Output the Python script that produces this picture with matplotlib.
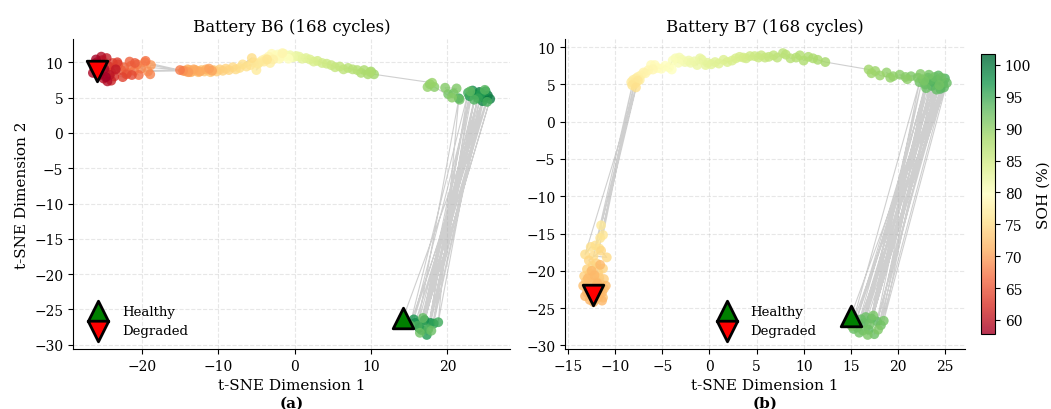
import matplotlib
matplotlib.use("Agg")
import matplotlib.pyplot as plt
import numpy as np

plt.rcParams['font.family'] = ['DejaVu Serif']

# ---------------- Battery B6 (cycle order) ----------------
b6_x = [
    14.2, 24.8, 15.8, 25.3, 16.3, 24.2, 17.0, 25.6, 16.6, 23.7,
    17.8, 24.6, 15.6, 23.3, 17.3, 25.0, 18.2, 22.9, 16.9, 24.4,
    18.8, 21.5, 16.1, 24.0, 17.5, 22.7, 15.1, 25.2, 16.8, 23.5,
    17.9, 24.9, 16.4, 23.0, 21.6, 20.8, 20.1, 21.2, 19.7, 20.6,
    18.3, 17.7, 17.4, 18.0, 10.4, 10.0, 9.6, 9.1, 8.7, 9.9,
    8.2, 7.6, 7.0, 6.4, 5.9, 5.3, 4.8, 4.2, 3.6, 3.0,
    2.5, 2.0, 1.5, 1.0, 0.6, 0.2, -0.2, -0.6, -1.0, -1.4,
    -1.8, -2.2, -0.8, -2.6, -3.0, -2.0, -3.4, -1.6, -3.8, -2.8,
    -4.2, -3.2, -4.6, -5.0, -4.0, -4.8, -5.4, -5.8, -3.6, -6.3,
    -6.8, -7.2, -5.6, -7.7, -8.1, -8.6, -9.0, -9.4, -9.8, -10.2,
    -10.6, -11.0, -11.4, -11.8, -12.2, -12.6, -13.0, -13.4, -13.8, -14.2,
    -12.8, -13.6, -11.6, -14.0, -12.4, -13.2, -10.8, -14.4, -11.2, -13.9,
    -18.8, -19.2, -14.6, -19.6, -20.1, -18.9, -20.6, -21.0, -15.0, -21.4,
    -19.5, -21.9, -20.4, -22.3, -21.6, -22.7, -20.9, -23.1, -22.0, -23.5,
    -21.3, -23.8, -22.5, -24.0, -23.2, -24.3, -23.6, -24.8, -25.2, -24.0,
    -25.6, -24.6, -23.4, -25.9, -24.2, -25.0, -26.2, -25.3, -24.5, -25.8,
    -26.4, -24.9, -25.5, -26.0, -24.7, -25.4, -26.3, -25.9,
]
b6_y = [
    -26.2, 5.0, -26.9, 5.3, -27.6, 5.8, -26.5, 4.8, -27.9, 5.4,
    -26.9, 4.5, -26.4, 6.0, -28.6, 5.9, -27.0, 5.2, -27.4, 5.6,
    -26.8, 4.9, -27.3, 4.9, -27.8, 5.7, -27.2, 4.4, -26.2, 4.7,
    -28.0, 6.1, -28.3, 5.9, 4.7, 5.6, 5.5, 6.3, 6.4, 5.0,
    6.5, 6.9, 6.5, 7.1, 8.3, 8.7, 8.3, 8.9, 8.5, 8.6,
    8.9, 9.0, 9.2, 9.0, 9.4, 9.3, 9.6, 9.8, 9.9, 10.2,
    10.1, 10.4, 10.6, 10.5, 10.8, 10.9, 10.7, 11.0, 10.9, 11.2,
    10.8, 11.1, 10.5, 10.9, 11.2, 10.5, 10.8, 11.3, 10.5, 10.4,
    10.3, 9.9, 10.0, 8.9, 10.1, 9.8, 10.0, 9.6, 10.4, 9.4,
    9.7, 9.2, 10.6, 9.0, 9.3, 8.9, 9.1, 8.8, 9.0, 8.7,
    8.9, 8.6, 8.9, 8.7, 8.9, 8.6, 8.9, 8.7, 8.9, 8.7,
    8.8, 8.6, 9.0, 9.0, 8.7, 9.0, 8.8, 8.8, 9.1, 8.6,
    9.6, 8.7, 8.8, 10.0, 9.1, 8.3, 9.7, 8.8, 8.9, 9.5,
    10.2, 8.5, 8.2, 9.3, 10.1, 8.9, 9.9, 9.7, 8.3, 9.1,
    8.2, 9.9, 7.9, 8.6, 10.0, 9.4, 8.0, 8.7, 10.3, 7.4,
    9.5, 10.6, 9.0, 10.0, 8.2, 7.7, 9.2, 10.8, 7.3, 9.8,
    8.5, 9.1, 8.2, 10.4, 7.9, 9.4, 9.7, 8.7,
]
b6_soh = [
    101.7, 101.2, 100.6, 100.8, 99.8, 100.2, 99.2, 99.7, 98.6, 99.2,
    98.0, 98.7, 97.5, 98.2, 97.0, 97.7, 96.4, 97.2, 95.8, 96.7,
    95.2, 96.2, 94.6, 95.7, 94.0, 95.2, 93.5, 94.7, 93.0, 94.2,
    92.6, 93.7, 92.2, 93.2, 92.6, 92.2, 91.8, 91.4, 91.0, 90.7,
    90.4, 90.1, 89.8, 89.5, 89.0, 88.7, 88.4, 88.1, 87.9, 87.7,
    87.4, 87.1, 86.8, 86.5, 86.2, 85.9, 85.6, 85.3, 85.0, 84.6,
    84.2, 83.8, 83.4, 83.0, 82.6, 82.2, 81.8, 81.4, 81.0, 80.7,
    80.4, 80.1, 79.8, 79.5, 79.2, 78.9, 78.6, 78.3, 78.0, 77.8,
    77.6, 77.4, 77.2, 77.0, 76.8, 76.6, 76.4, 76.2, 76.0, 75.8,
    75.6, 75.4, 75.2, 75.0, 74.8, 74.6, 74.4, 74.2, 74.0, 73.8,
    73.6, 73.4, 73.2, 73.0, 72.8, 72.6, 72.4, 72.2, 72.0, 71.8,
    71.6, 71.4, 71.2, 71.0, 70.8, 70.6, 70.4, 70.2, 70.0, 69.8,
    69.5, 69.2, 69.0, 68.8, 68.5, 68.2, 68.0, 67.7, 67.5, 67.2,
    67.0, 66.7, 66.4, 66.2, 65.9, 65.6, 65.3, 65.0, 64.7, 64.4,
    64.1, 63.8, 63.5, 63.2, 63.0, 62.6, 62.2, 61.8, 61.5, 61.2,
    60.9, 60.6, 60.3, 60.0, 59.8, 59.5, 59.3, 59.1, 58.9, 58.7,
    58.5, 58.3, 58.2, 58.0, 57.9, 57.8, 57.8, 57.8,
]

# ---------------- Battery B7 (cycle order) ----------------
b7_x = [
    15.0, 24.2, 16.4, 23.6, 17.2, 24.8, 15.7, 23.2, 16.9, 24.5,
    17.8, 25.0, 16.1, 23.8, 15.3, 24.3, 17.5, 22.9, 16.6, 24.9,
    18.2, 23.5, 15.9, 24.1, 17.0, 22.6, 16.3, 25.2, 18.5, 23.9,
    15.5, 23.0, 17.4, 24.6, 16.8, 22.3, 15.1, 24.4, 17.9, 23.3,
    22.8, 22.1, 21.4, 22.4, 20.8, 20.2, 21.0, 19.5, 18.8, 19.2,
    18.1, 17.6, 17.2, 16.9, 12.3, 11.5, 11.0, 10.5, 10.0, 9.6,
    9.2, 8.6, 8.1, 7.8, 7.2, 6.8, 6.3, 5.9, 5.5, 5.2,
    4.8, 4.3, 3.9, 3.6, 3.2, 2.8, 2.4, 1.9, 1.5, 1.0,
    0.6, 0.2, -0.2, -0.4, -0.8, -1.0, -1.3, -1.6, -2.0, -2.2,
    -2.6, -2.9, -3.2, -3.6, -3.3, -3.9, -4.3, -4.0, -4.7, -5.1,
    -5.5, -5.8, -6.2, -6.0, -6.5, -6.8, -7.0, -7.3, -7.6, -7.4,
    -7.8, -8.1, -8.3, -7.9, -11.5, -11.3, -8.0, -7.6, -11.6, -12.1,
    -8.2, -11.7, -12.6, -13.2, -7.8, -12.3, -10.9, -11.5, -12.8, -12.4,
    -11.3, -12.0, -13.0, -11.8, -13.3, -12.3, -11.2, -12.7, -11.7, -12.9,
    -11.9, -11.2, -12.5, -13.1, -11.5, -12.2, -11.3, -12.8, -11.7, -12.0,
    -13.4, -12.6, -11.4, -12.1, -11.0, -12.9, -11.8, -12.5, -11.6, -13.0,
    -12.2, -11.4, -12.7, -11.9, -13.2, -11.6, -12.3, -12.4,
]
b7_y = [
    -26.1, 5.6, -27.0, 4.8, -26.4, 5.1, -27.6, 5.9, -27.9, 4.4,
    -26.8, 5.8, -26.5, 5.3, -27.8, 6.2, -28.5, 5.0, -26.2, 4.6,
    -27.3, 5.6, -28.3, 4.3, -27.2, 5.7, -28.0, 5.2, -26.7, 6.0,
    -26.9, 4.5, -26.0, 5.9, -28.6, 5.3, -27.4, 4.9, -27.9, 6.3,
    5.5, 5.9, 6.1, 6.4, 6.0, 6.3, 5.7, 6.1, 6.6, 5.9,
    6.2, 6.8, 6.5, 7.0, 8.0, 8.3, 8.5, 8.7, 8.2, 8.9,
    8.6, 8.5, 9.0, 9.2, 8.6, 8.9, 8.7, 8.6, 8.9, 8.6,
    8.8, 8.8, 8.5, 8.6, 8.7, 8.5, 8.2, 8.0, 8.3, 7.8,
    8.0, 7.7, 7.9, 7.6, 8.3, 8.5, 7.6, 8.1, 7.9, 8.2,
    8.0, 8.3, 8.6, 8.5, 7.9, 8.2, 7.3, 7.0, 7.5, 7.1,
    7.2, 7.6, 7.6, 7.0, 6.9, 6.5, 6.6, 6.2, 6.0, 5.6,
    5.8, 5.6, 5.3, 5.1, -13.9, -15.2, 5.2, 5.5, -15.6, -16.6,
    4.9, -17.0, -16.8, -17.8, 4.6, -18.0, -18.2, -17.3, -18.6, -19.3,
    -19.7, -19.0, -19.8, -20.2, -20.7, -21.0, -21.1, -20.4, -20.9, -22.3,
    -22.3, -22.4, -21.6, -21.4, -21.8, -22.8, -23.6, -23.0, -23.2, -21.5,
    -22.0, -22.6, -22.9, -23.8, -22.0, -21.0, -23.5, -20.0, -19.2, -22.9,
    -20.6, -24.0, -23.9, -21.7, -23.4, -22.6, -24.2, -23.2,
]
b7_soh = [
    94.5, 95.0, 94.0, 94.8, 93.8, 94.6, 93.6, 94.5, 93.4, 94.3,
    93.2, 94.2, 93.0, 94.0, 92.8, 93.8, 92.6, 93.6, 92.5, 93.5,
    92.4, 93.3, 92.2, 93.1, 92.1, 93.0, 92.0, 92.8, 91.9, 92.6,
    91.8, 92.5, 91.6, 92.3, 91.5, 92.1, 91.4, 92.0, 91.3, 91.8,
    91.5, 91.3, 91.1, 90.9, 90.7, 90.5, 90.3, 90.1, 89.9, 89.7,
    89.5, 89.3, 89.1, 88.9, 88.5, 88.3, 88.1, 87.9, 87.7, 87.5,
    87.3, 87.1, 86.9, 86.7, 86.5, 86.3, 86.1, 85.9, 85.7, 85.5,
    85.3, 85.1, 84.9, 84.7, 84.5, 84.3, 84.1, 83.9, 83.7, 83.5,
    83.3, 83.1, 82.9, 82.7, 82.5, 82.3, 82.1, 81.9, 81.7, 81.5,
    81.3, 81.1, 80.9, 80.7, 80.5, 80.3, 80.1, 79.9, 79.7, 79.5,
    79.3, 79.1, 78.9, 78.7, 78.5, 78.3, 78.1, 77.9, 77.7, 77.5,
    77.3, 77.1, 76.9, 76.7, 76.5, 76.3, 76.6, 76.4, 76.0, 75.8,
    76.0, 75.6, 75.4, 75.2, 75.5, 75.0, 74.8, 74.7, 74.6, 74.5,
    74.4, 74.3, 74.2, 74.1, 74.0, 73.9, 73.8, 73.7, 73.6, 73.5,
    73.4, 73.3, 73.2, 73.1, 73.0, 72.9, 72.8, 72.7, 72.6, 72.5,
    72.4, 72.3, 72.2, 72.2, 72.1, 72.1, 72.0, 72.0, 71.9, 71.9,
    71.9, 71.8, 71.8, 71.8, 71.8, 71.7, 71.7, 71.7,
]

batteries = [("B6", b6_x, b6_y, b6_soh), ("B7", b7_x, b7_y, b7_soh)]
panel_labels = ["(a)", "(b)"]
legend_locs = ["lower left", "lower center"]

vmin = min(min(b6_soh), min(b7_soh))
vmax = max(max(b6_soh), max(b7_soh))

fig = plt.figure(figsize=(10.51, 4.10), dpi=100)
ax1 = fig.add_axes([0.0695, 0.1463, 0.4158, 0.7561])
ax2 = fig.add_axes([0.5376, 0.1463, 0.3806, 0.7561])
cax = fig.add_axes([0.9334, 0.1829, 0.0133, 0.6830])

sc = None
for ax, (name, x, y, soh), plab, lloc in zip([ax1, ax2], batteries, panel_labels, legend_locs):
    ax.plot(x, y, '-', color='#b0b0b0', lw=0.8, alpha=0.6, zorder=1)
    sc = ax.scatter(x, y, c=soh, cmap='RdYlGn', vmin=vmin, vmax=vmax,
                    s=50, alpha=0.8, edgecolors='none', zorder=2)
    ax.scatter([x[0]], [y[0]], marker='^', s=220, color='green',
               edgecolors='black', linewidths=2, zorder=5, label='Healthy')
    ax.scatter([x[-1]], [y[-1]], marker='v', s=220, color='red',
               edgecolors='black', linewidths=2, zorder=5, label='Degraded')
    ax.set_title(f"Battery {name} ({len(x)} cycles)", fontsize=12)
    ax.set_xlabel("t-SNE Dimension 1", fontsize=11)
    ax.grid(True, linestyle='--', alpha=0.3)
    ax.spines['top'].set_visible(False)
    ax.spines['right'].set_visible(False)
    ax.tick_params(labelsize=10)
    ax.legend(loc=lloc, frameon=False, fontsize=9.5)
    ax.text(0.5, -0.174, plab, transform=ax.transAxes, ha='center', va='center',
            fontsize=11, fontweight='bold')

ax1.set_ylabel("t-SNE Dimension 2", fontsize=11)

cb = fig.colorbar(sc, cax=cax)
cb.set_label("SOH (%)", fontsize=11)
cb.ax.tick_params(labelsize=10)

fig.savefig("out.png", dpi=100)
